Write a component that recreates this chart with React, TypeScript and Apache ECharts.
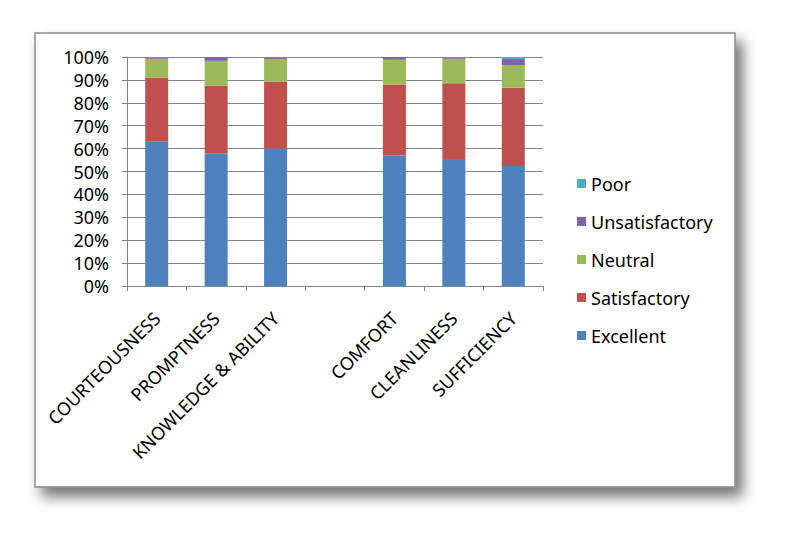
import React, { useEffect, useRef } from "react";
import * as echarts from "echarts";

const categories = ["COURTEOUSNESS", "PROMPTNESS", "KNOWLEDGE & ABILITY", "", "COMFORT", "CLEANLINESS", "SUFFICIENCY"];
const excellent = [63, 58, 60, null, 57, 55.5, 52.4];
const satisfactory = [28, 29.5, 29.3, null, 31, 33, 34.2];
const neutral = [8.2, 10.8, 9.8, null, 10.8, 10.7, 9.9];
const unsatisfactory = [0.5, 1.7, 0.6, null, 1.2, 0.5, 2.6];
const poor = [0.3, 0, 0.3, null, 0, 0.3, 0.9];
const yTicks = [0, 10, 20, 30, 40, 50, 60, 70, 80, 90, 100];

const seriesDefs = [
  { name: "Excellent", data: excellent, color: "#4F81BD" },
  { name: "Satisfactory", data: satisfactory, color: "#C0504D" },
  { name: "Neutral", data: neutral, color: "#9BBB59" },
  { name: "Unsatisfactory", data: unsatisfactory, color: "#8064A2" },
  { name: "Poor", data: poor, color: "#4BACC6" },
];

const FONT = "Noto Sans";

export default function App() {
  const ref = useRef<HTMLDivElement>(null);
  useEffect(() => {
    if (!ref.current) return;
    const chart = echarts.init(ref.current, undefined, { renderer: "svg" });
    chart.setOption({
      animation: false,
      backgroundColor: "#fff",
      textStyle: { fontFamily: FONT },
      graphic: [
        {
          type: "rect",
          z: -10,
          silent: true,
          shape: { x: 35, y: 33, width: 700, height: 454 },
          style: {
            fill: "#fff",
            stroke: "#8a8a8a",
            lineWidth: 1.5,
            shadowBlur: 14,
            shadowOffsetX: 7,
            shadowOffsetY: 9,
            shadowColor: "rgba(0,0,0,0.55)",
          },
        },
      ],
      grid: { left: 127, right: 258, top: 57, bottom: 266, containLabel: false },
      legend: {
        orient: "vertical",
        left: 572,
        top: 166,
        itemWidth: 9,
        itemHeight: 9,
        itemGap: 13,
        icon: "rect",
        data: ["Poor", "Unsatisfactory", "Neutral", "Satisfactory", "Excellent"],
        textStyle: { fontFamily: FONT, fontSize: 18, color: "#000", lineHeight: 25 },
      },
      xAxis: {
        type: "category",
        data: categories,
        axisLine: { lineStyle: { color: "#868686", width: 1 } },
        axisTick: { show: true, length: 5, lineStyle: { color: "#868686" } },
        axisLabel: {
          rotate: 45,
          interval: 0,
          color: "#000",
          fontFamily: FONT,
          fontSize: 18,
          margin: 29,
        },
      },
      yAxis: {
        type: "value",
        min: 0,
        max: 100,
        interval: 10,
        axisLine: { show: true, lineStyle: { color: "#868686", width: 1 } },
        axisTick: { show: true, length: 5, lineStyle: { color: "#868686" } },
        splitLine: { lineStyle: { color: "#868686", width: 1 } },
        axisLabel: {
          color: "#000",
          fontFamily: FONT,
          fontSize: 18,
          margin: 18,
          formatter: (v: number) => (yTicks.includes(v) ? v + "%" : ""),
        },
      },
      series: seriesDefs.map((s) => ({
        name: s.name,
        type: "bar",
        stack: "total",
        barWidth: 23,
        data: s.data.map((v) => (v === null ? "-" : v)),
        itemStyle: { color: s.color },
      })),
    });
    return () => chart.dispose();
  }, []);
  return (
    <div
      ref={ref}
      style={{ position: "absolute", left: 0, top: 0, width: 801, height: 552 }}
    />
  );
}
